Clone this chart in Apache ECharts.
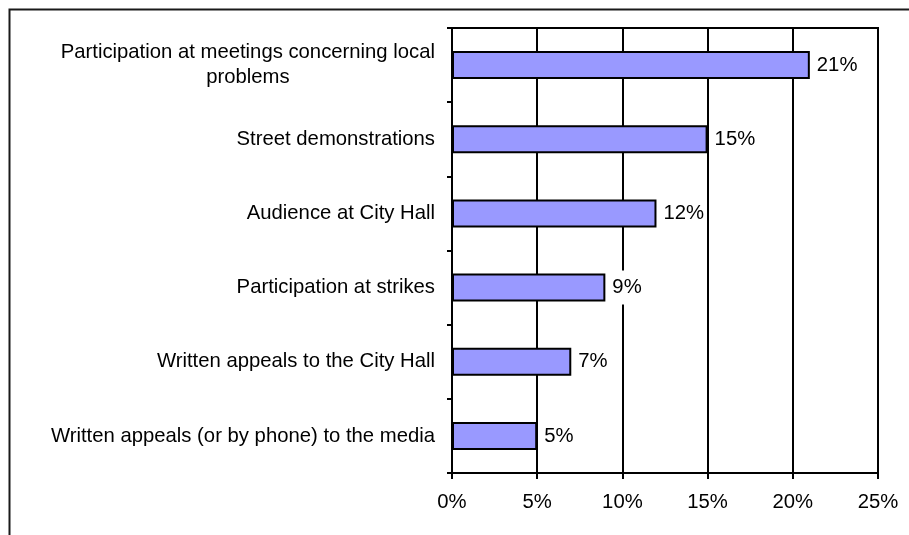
<!DOCTYPE html>
<html>
<head>
<meta charset="utf-8">
<script src="https://cdn.jsdelivr.net/npm/echarts@6/dist/echarts.min.js"></script>
<style>
  html, body { margin: 0; padding: 0; background: #fff; }
  #chart { width: 909px; height: 535px; }
</style>
</head>
<body>
<div id="chart"></div>
<script>
// Forms of civic participation, share of respondents (%)
const categories = [
  'Participation at meetings concerning local\nproblems',
  'Street demonstrations',
  'Audience at City Hall',
  'Participation at strikes',
  'Written appeals to the City Hall',
  'Written appeals (or by phone) to the media'
];
const values = [21, 15, 12, 9, 7, 5];
const xTicks = [0, 5, 10, 15, 20, 25];

const FONT = '"Liberation Sans", Arial, sans-serif';
const FS = 20.3;

const chart = echarts.init(document.getElementById('chart'), null, { renderer: 'canvas' });

chart.setOption({
  backgroundColor: '#ffffff',
  animation: false,
  textStyle: { fontFamily: FONT, color: '#000' },
  graphic: [{
    type: 'rect',
    shape: { x: 9.5, y: 9.5, width: 1000, height: 1000 },
    style: { fill: 'none', stroke: '#1a1a1a', lineWidth: 2 },
    silent: true,
    z: 0
  }],
  grid: {
    left: 452, top: 28, right: 31, bottom: 62,
    show: true,
    borderColor: '#000',
    borderWidth: 2,
    backgroundColor: 'transparent'
  },
  xAxis: {
    type: 'value',
    min: xTicks[0],
    max: xTicks[xTicks.length - 1],
    interval: 5,
    axisLine: { show: true, lineStyle: { color: '#000', width: 2 } },
    axisTick: { show: true, length: 6, lineStyle: { color: '#000', width: 2 } },
    splitLine: { show: true, lineStyle: { color: '#000', width: 2 } },
    axisLabel: {
      margin: 19,
      fontSize: FS,
      fontFamily: FONT,
      color: '#000',
      formatter: '{value}%'
    }
  },
  yAxis: {
    type: 'category',
    data: categories,
    inverse: true,
    axisLine: { show: true, lineStyle: { color: '#000', width: 2 } },
    axisTick: { show: true, length: 5, alignWithLabel: false, lineStyle: { color: '#000', width: 2 } },
    splitLine: { show: false },
    axisLabel: {
      margin: 17,
      fontSize: FS,
      fontFamily: FONT,
      color: '#000',
      lineHeight: 25,
      formatter: function (v) {
        return v.indexOf('\n') >= 0 ? '{c|' + v + '}' : v;
      },
      rich: {
        c: { align: 'center', fontSize: FS, fontFamily: FONT, color: '#000', lineHeight: 25 }
      }
    }
  },
  series: [{
    type: 'bar',
    data: values,
    barWidth: 28,
    itemStyle: { color: '#9999ff', borderColor: '#000', borderWidth: 2 },
    label: {
      show: true,
      position: 'right',
      distance: 5,
      fontSize: FS,
      fontFamily: FONT,
      color: '#000',
      backgroundColor: '#ffffff',
      padding: [7, 2],
      formatter: '{c}%'
    }
  }]
});
</script>
</body>
</html>
